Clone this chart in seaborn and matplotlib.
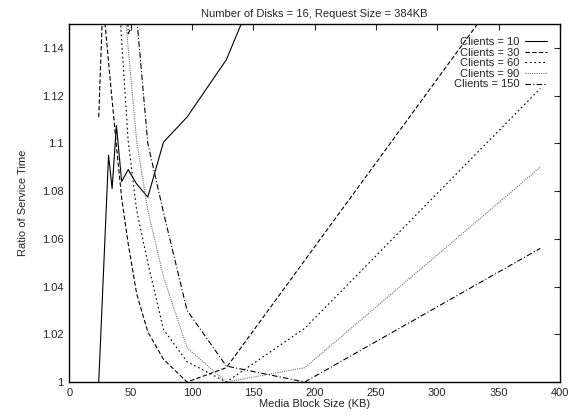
import numpy as np
import pandas as pd
import matplotlib
matplotlib.use("Agg")
import matplotlib.pyplot as plt
import seaborn as sns

# ---------------------------
# DATA
# ---------------------------
TITLE = "Number of Disks = 16, Request Size = 384KB"
CLIENTS = [10, 30, 60, 90, 150]

sizes_10 = [24.0, 32.0, 34.9, 38.4, 42.7, 48.0, 54.9, 64.0, 76.8, 96.0, 128.0, 192.0]
ratio_10 = [1.0, 1.095, 1.081, 1.1075, 1.084, 1.089, 1.083, 1.0775, 1.1005, 1.111, 1.135, 1.214]

sizes_30 = [24.0, 27.4, 32.0, 38.4, 42.7, 48.0, 54.9, 64.0, 76.8, 96.0, 128.0, 192.0, 384.0]
ratio_30 = [1.111, 1.16, 1.134, 1.099, 1.077, 1.058, 1.037, 1.021, 1.0095, 1.0, 1.006, 1.051, 1.186]

sizes_60 = [38.4, 42.7, 48.0, 54.9, 64.0, 76.8, 96.0, 128.0, 192.0, 384.0]
ratio_60 = [1.18, 1.143, 1.101, 1.072, 1.050, 1.022, 1.0085, 1.0, 1.0225, 1.123]

sizes_90 = [42.7, 48.0, 54.9, 64.0, 76.8, 96.0, 128.0, 192.0, 384.0]
ratio_90 = [1.17, 1.14, 1.101, 1.072, 1.044, 1.0143, 1.0, 1.006, 1.090]

sizes_150 = [42.7, 48.0, 54.9, 64.0, 76.8, 96.0, 128.0, 192.0, 384.0]
ratio_150 = [1.25, 1.146, 1.153, 1.100, 1.071, 1.030, 1.0067, 1.0, 1.056]

# ---------------------------
# LONG TABLE FOR SEABORN
# ---------------------------
series = {
    10: (sizes_10, ratio_10),
    30: (sizes_30, ratio_30),
    60: (sizes_60, ratio_60),
    90: (sizes_90, ratio_90),
    150: (sizes_150, ratio_150),
}
rows = []
for c in CLIENTS:
    xs, ys = series[c]
    for x, y in zip(xs, ys):
        rows.append({"block": x, "ratio": y, "clients": c})
df = pd.DataFrame(rows)

# ---------------------------
# STYLE
# ---------------------------
sns.set_style("white")
plt.rcParams["font.family"] = ["Liberation Sans", "DejaVu Sans"]
plt.rcParams["font.size"] = 8

palette = {10: "black", 30: "black", 60: "black", 90: "#707070", 150: "black"}
dashes = {10: "", 30: (4, 2), 60: (1.5, 2.5), 90: (1, 1), 150: (5, 2, 1, 2)}

fig = plt.figure(figsize=(5.69, 4.17), dpi=100)
ax = fig.add_axes([0.1218, 0.0839, 0.8622, 0.8585])

sns.lineplot(data=df, x="block", y="ratio", hue="clients", style="clients",
             palette=palette, dashes=dashes, hue_order=CLIENTS, style_order=CLIENTS,
             estimator=None, sort=False, linewidth=0.8, legend=False, ax=ax)

ax.set_xlim(0, 400)
ax.set_ylim(1.0, 1.15)
ax.set_xticks(np.arange(0, 401, 50))
ax.set_yticks([1.0, 1.02, 1.04, 1.06, 1.08, 1.1, 1.12, 1.14])
ax.set_yticklabels(["1", "1.02", "1.04", "1.06", "1.08", "1.1", "1.12", "1.14"])
ax.tick_params(direction="in", top=True, right=True, length=4, width=0.8,
               labelsize=8, pad=4)
for s in ax.spines.values():
    s.set_linewidth(1.0)
    s.set_color("black")

ax.set_xlabel("Media Block Size (KB)", fontsize=8, labelpad=1)
ax.set_ylabel("Ratio of Service Time", fontsize=8, labelpad=10)
ax.set_title(TITLE, fontsize=8, pad=5)

handles = ax.get_lines()[:len(CLIENTS)]
labels = [f"Clients = {c}" for c in CLIENTS]
ax.legend(handles, labels, loc="upper right", markerfirst=False, frameon=False,
          fontsize=8, handlelength=2.0, handletextpad=0.5, labelspacing=0.05,
          borderaxespad=0.3, bbox_to_anchor=(0.99, 0.985))

fig.savefig("out.png", dpi=100)
